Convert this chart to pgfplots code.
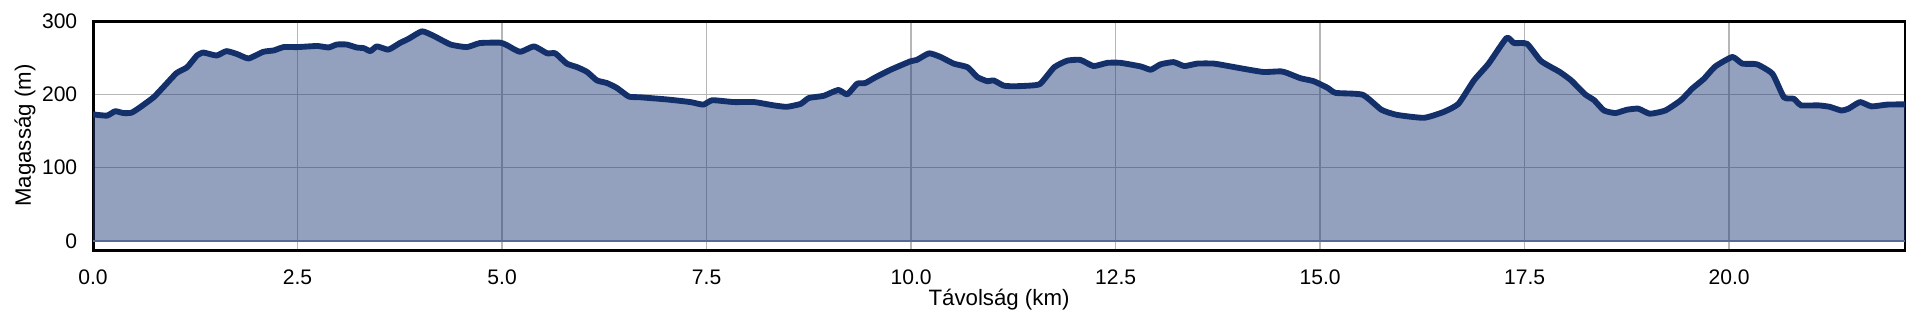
\documentclass[border=0pt]{standalone}
\usepackage{fontspec}
\setmainfont{Liberation Sans}
\usepackage{pgfplots}
\usepackage{pgfplotstable}
\pgfplotsset{compat=1.18}
\usetikzlibrary{calc}
\definecolor{navyline}{RGB}{20,48,107}
\definecolor{navyfill}{RGB}{31,58,120}
\definecolor{zeroline}{RGB}{88,106,150}
\definecolor{gridgray}{RGB}{182,182,182}
\pgfplotstableread{
x y
0.00 172.7
0.17 171
0.27 177
0.37 174.5
0.47 175
0.57 182
0.74 196
0.86 210
1.02 229
1.15 237
1.27 253
1.35 257
1.51 253
1.63 259
1.76 255
1.90 249
2.08 258
2.21 260
2.33 264.5
2.50 264.5
2.74 266
2.88 264
2.98 268
3.10 268
3.22 264
3.31 263
3.39 259
3.47 265.5
3.61 261
3.75 270
3.86 276
4.02 286
4.16 280
4.37 268
4.57 264.5
4.73 270
4.98 270.5
5.06 267
5.22 258
5.39 265.5
5.55 256
5.65 256
5.79 242
5.92 237
6.04 230.5
6.16 219
6.28 215.5
6.40 209
6.55 197
6.69 196
7.02 193
7.30 189.5
7.46 186
7.57 192
7.83 189.5
8.08 189.5
8.32 185
8.48 183
8.65 187
8.75 195
8.93 198
9.11 206
9.22 200
9.34 214.5
9.44 215.5
9.56 223
9.75 233.6
9.99 245
10.07 247
10.22 256
10.36 251
10.52 242
10.69 237
10.81 223.6
10.93 218
11.01 219
11.13 212
11.25 211
11.46 212
11.58 214.5
11.75 237
11.91 246
12.07 247
12.23 238.6
12.40 243
12.56 243
12.81 238
12.93 233.6
13.05 241
13.21 244
13.34 238.6
13.50 242
13.70 242
13.91 238
14.11 234
14.31 230.5
14.52 231.4
14.60 229
14.76 222
14.92 218
15.09 209
15.19 202
15.52 199.5
15.75 179
15.94 172
16.27 168
16.51 176
16.69 187
16.88 219
17.06 242
17.28 277
17.37 270
17.53 269
17.70 245.5
17.93 230.5
18.07 219
18.24 200
18.35 192
18.47 178
18.61 174.5
18.75 179
18.89 180.5
19.03 173.6
19.22 178
19.41 192
19.55 208
19.69 221
19.83 238
20.04 251
20.16 242
20.34 241
20.53 228
20.67 196
20.79 194
20.88 185
21.09 185
21.23 183
21.37 178
21.46 180.5
21.60 189.5
21.74 183.6
21.93 186
22.14 186.4
22.15 186.4
}\profile
\begin{document}
\begin{tikzpicture}
\begin{axis}[
  name=ax,
  scale only axis,
  width=928.7pt, height=117.4pt,
  xmin=0, xmax=22.15, ymin=-12.5, ymax=300,
  xtick={0,2.5,5,7.5,10,12.5,15,17.5,20},
  ytick={0,100,200,300},
  grid=major,
  major grid style={draw=gridgray, line width=0.7pt},
  tick style={draw=none},
  axis line style={line width=1.5pt, black},
  /pgf/number format/assume math mode=true,
  xticklabel style={/pgf/number format/.cd, fixed, fixed zerofill, precision=1, /tikz/.cd, anchor=base, yshift=-17.4pt, font=\fontsize{10.8}{13}\selectfont},
  yticklabel style={anchor=east, xshift=-4.6pt, font=\fontsize{10.8}{13}\selectfont},
  xlabel={Távolság (km)},
  ylabel={Magasság (m)},
  every axis x label/.style={at={(axis description cs:0.5,0)}, yshift=-25.6pt, anchor=center, font=\fontsize{11.4}{13}\selectfont},
  every axis y label/.style={at={(axis description cs:0,0.5)}, xshift=-34.9pt, rotate=90, anchor=center, font=\fontsize{11.4}{13}\selectfont},
]
\addplot[draw=none, fill=navyfill, fill opacity=0.48, smooth, tension=0.3] table {\profile} \closedcycle;
\addplot[draw=zeroline, line width=1pt] coordinates {(0,0) (22.15,0)};
\addplot[draw=navyline, line width=3pt, line join=round, line cap=round, smooth, tension=0.3] table {\profile};
\end{axis}
\path ($(ax.south west)+(-47.7pt,-39.5pt)$) rectangle ($(ax.north east)+(7.7pt,10.8pt)$);
\end{tikzpicture}
\end{document}
